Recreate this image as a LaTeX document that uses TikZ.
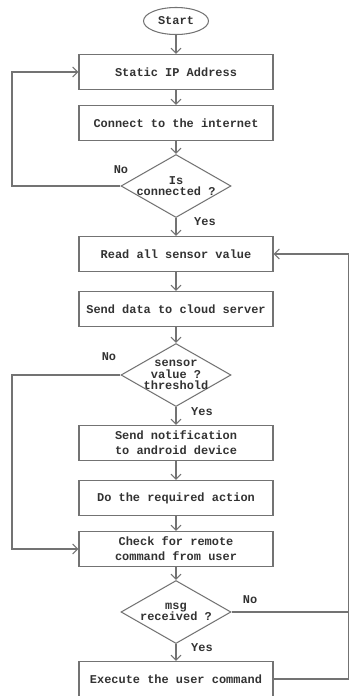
\documentclass[tikz,border=0pt]{standalone}
\usepackage{fontspec}
\setmonofont{Liberation Mono}
\usetikzlibrary{shapes.geometric,arrows.meta}

\definecolor{linegray}{RGB}{115,115,115}
\definecolor{textgray}{RGB}{50,50,50}
\newcommand{\flowfont}{\ttfamily\bfseries\fontsize{10.2}{12.8}\selectfont}
\newcommand{\decfont}{\ttfamily\bfseries\fontsize{10.2}{9.8}\selectfont}

\tikzset{
  flowbox/.style={draw=linegray, line width=0.9pt, minimum width=5.82cm, minimum height=1.05cm, inner sep=0pt, align=center, font=\flowfont, text=textgray},
  terminal/.style={ellipse, draw=linegray, line width=0.9pt, minimum width=1.95cm, minimum height=0.81cm, inner sep=0pt, font=\flowfont, text=textgray},
  decision/.style={diamond, draw=linegray, line width=0.9pt, minimum width=3.3cm, minimum height=1.89cm, inner sep=0pt},
  dtext/.style={align=center, inner sep=0pt, font=\decfont, text=textgray},
  answer/.style={inner sep=0pt, font=\flowfont, text=textgray},
  flowline/.style={draw=linegray, line width=0.9pt}
}

\begin{document}
\begin{tikzpicture}[x=0.03cm,y=-0.03cm,>={Straight Barb[length=4.3pt,width=8.5pt]}]
\useasboundingbox (0,0) rectangle (349,696);

\node[terminal] (start) at(176,21){Start};
\node[flowbox] (staticip) at(176,72){Static IP Address};
\node[flowbox] (connect) at(176,123){Connect to the internet};
\node[decision] (isconn) at(176,186){};
\node[dtext] (isconntext) at(176,186){Is\\connected ?};
\node[flowbox] (readsensor) at(176,254){Read all sensor value};
\node[flowbox] (senddata) at(176,309){Send data to cloud server};
\node[decision] (threshold) at(176,375){};
\node[dtext] (thresholdtext) at(176,375){sensor\\value ?\\threshold};
\node[flowbox] (notify) at(176,443){Send notification\\to android device};
\node[flowbox] (action) at(176,498){Do the required action};
\node[flowbox] (remote) at(176,549){Check for remote\\command from user};
\node[decision] (msgrecv) at(176,612){};
\node[dtext] (msgtext) at(176,612){msg\\received ?};
\node[flowbox] (execute) at(176,679){Execute the user command};

\node[answer] (noconn) at(121,170){No};
\node[answer] (yesconn) at(205,222){Yes};
\node[answer] (nothresh) at(109,357){No};
\node[answer] (yesthresh) at(202,412){Yes};
\node[answer] (nomsg) at(250,600){No};
\node[answer] (yesmsg) at(202,648){Yes};

\coordinate (lefttop) at(12,72);
\coordinate (leftbot) at(12,549);
\coordinate (rightcol) at(348.5,254);

\draw[flowline,->] (start) -- (staticip);
\draw[flowline,->] (staticip) -- (connect);
\draw[flowline,->] (connect) -- (isconn);
\draw[flowline,->] (isconn) -- (readsensor);
\draw[flowline,->] (readsensor) -- (senddata);
\draw[flowline,->] (senddata) -- (threshold);
\draw[flowline,->] (threshold) -- (notify);
\draw[flowline,->] (notify) -- (action);
\draw[flowline,->] (action) -- (remote);
\draw[flowline,->] (remote) -- (msgrecv);
\draw[flowline,->] (msgrecv) -- (execute);

\draw[flowline,->] (isconn.west) -| (lefttop) -- (staticip.west);
\draw[flowline,->] (threshold.west) -| (leftbot) -- (remote.west);
\draw[flowline,->] (execute.east) -| (rightcol) -- (readsensor.east);
\draw[flowline] (msgrecv.east) -- (msgrecv.east -| rightcol);

\end{tikzpicture}
\end{document}
